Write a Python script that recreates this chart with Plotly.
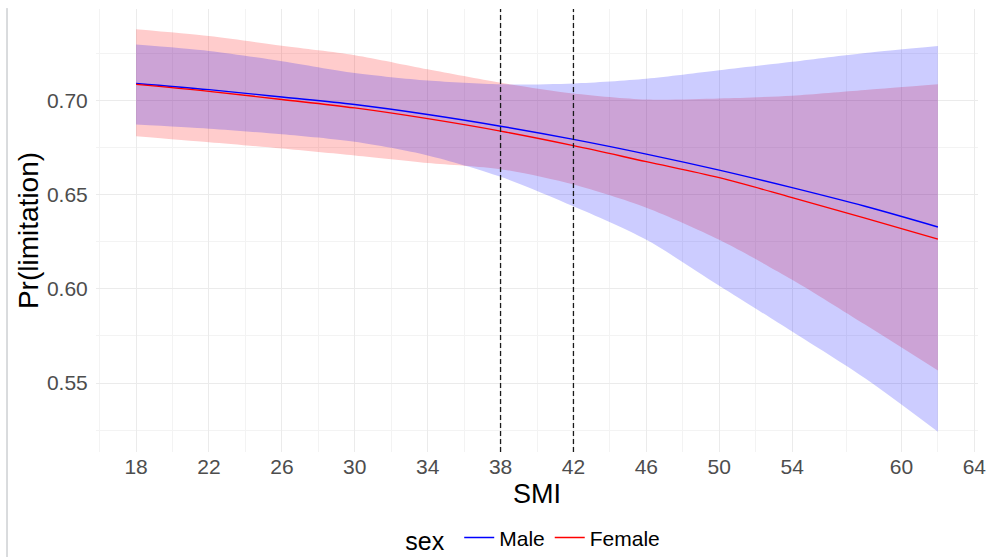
import plotly.graph_objects as go

# ---- data ----
smi = [18, 22, 26, 30, 34, 38, 42, 46, 50, 54, 58, 62]

male_fit = [0.7090, 0.7057, 0.7018, 0.6978, 0.6925, 0.6863, 0.6793, 0.6715, 0.6630, 0.6537, 0.6438, 0.6328]
male_upper = [0.7296, 0.7262, 0.7208, 0.7145, 0.7105, 0.7085, 0.7090, 0.7115, 0.7160, 0.7205, 0.7252, 0.7289]
male_lower = [0.6872, 0.6850, 0.6820, 0.6780, 0.6708, 0.6595, 0.6438, 0.6260, 0.6016, 0.5773, 0.5525, 0.5241]

female_fit = [0.7085, 0.7048, 0.7005, 0.6960, 0.6903, 0.6837, 0.6760, 0.6675, 0.6590, 0.6484, 0.6375, 0.6264]
female_upper = [0.7378, 0.7342, 0.7290, 0.7240, 0.7165, 0.7094, 0.7037, 0.7005, 0.7010, 0.7025, 0.7055, 0.7085]
female_lower = [0.6810, 0.6778, 0.6745, 0.6708, 0.6668, 0.6635, 0.6553, 0.6430, 0.6260, 0.6048, 0.5810, 0.5566]

cutoffs = [38, 42]

x_ticks = [18, 22, 26, 30, 34, 38, 42, 46, 50, 54, 60, 64]
x_minor = [16, 20, 24, 28, 32, 36, 40, 44, 48, 52, 57, 62]
y_ticks = [0.55, 0.60, 0.65, 0.70]
y_tick_labels = ["0.55", "0.60", "0.65", "0.70"]
y_minor = [0.525, 0.575, 0.625, 0.675, 0.725]

FONT = "Liberation Sans, Arial, sans-serif"

fig = go.Figure()

# ribbons (lower edge, then upper edge filled down to it)
for lower, upper, col in [(female_lower, female_upper, "rgba(255,0,0,0.2)"),
                          (male_lower, male_upper, "rgba(0,0,255,0.2)")]:
    fig.add_trace(go.Scatter(x=smi, y=lower, mode="lines",
                             line=dict(width=0, shape="spline", smoothing=0.8),
                             hoverinfo="skip", showlegend=False))
    fig.add_trace(go.Scatter(x=smi, y=upper, mode="lines", fill="tonexty", fillcolor=col,
                             line=dict(width=0, shape="spline", smoothing=0.8),
                             hoverinfo="skip", showlegend=False))

# fitted lines
fig.add_trace(go.Scatter(x=smi, y=male_fit, mode="lines", name="Male",
                         line=dict(color="#0000FF", width=1.4, shape="spline")))
fig.add_trace(go.Scatter(x=smi, y=female_fit, mode="lines", name="Female",
                         line=dict(color="#FF0000", width=1.4, shape="spline")))

for c in cutoffs:
    fig.add_vline(x=c, line=dict(color="#1a1a1a", width=1.3, dash="5px,3px"))

# screenshot border artifact on the left
fig.add_shape(type="line", xref="paper", yref="paper", x0=-0.1009, x1=-0.1009,
              y0=1.002, y1=-0.24, line=dict(color="#B4B8BC", width=1))

fig.update_layout(
    width=990, height=557,
    margin=dict(l=96, r=12, t=9, b=105, autoexpand=False),
    paper_bgcolor="white", plot_bgcolor="white",
    font=dict(family=FONT, color="#000000"),
    legend=dict(orientation="h", x=0.497, xanchor="center", y=-0.196, yanchor="middle",
                traceorder="normal",
                title=dict(text="sex ", font=dict(size=25, color="black"), side="left"),
                font=dict(size=21, color="black"), itemwidth=30,
                bgcolor="rgba(0,0,0,0)"),
)

fig.update_xaxes(
    range=[15.8, 64.2], tickmode="array", tickvals=x_ticks,
    ticktext=[str(v) for v in x_ticks],
    tickfont=dict(size=21, color="#4D4D4D", family=FONT),
    showgrid=True, gridcolor="#EBEBEB", gridwidth=1.1,
    minor=dict(tickmode="array", tickvals=x_minor, showgrid=True,
               gridcolor="#F3F3F3", gridwidth=0.8),
    zeroline=False, showline=False, ticks="", automargin=False,
    title=dict(text="SMI", font=dict(size=27, color="black", family=FONT), standoff=7),
)
fig.update_yaxes(
    range=[0.5134, 0.7485], tickmode="array", tickvals=y_ticks, ticktext=y_tick_labels,
    tickfont=dict(size=21, color="#4D4D4D", family=FONT),
    showgrid=True, gridcolor="#EBEBEB", gridwidth=1.1,
    minor=dict(tickmode="array", tickvals=y_minor, showgrid=True,
               gridcolor="#F3F3F3", gridwidth=0.8),
    zeroline=False, showline=False, ticks="outside", ticklen=3, tickcolor="rgba(0,0,0,0)",
    automargin=False,
    title=dict(text="Pr(limitation)", font=dict(size=28, color="black", family=FONT), standoff=0),
)

fig.write_html("out.html", config={"displayModeBar": False},
               post_script="document.body.style.margin='0px';")
